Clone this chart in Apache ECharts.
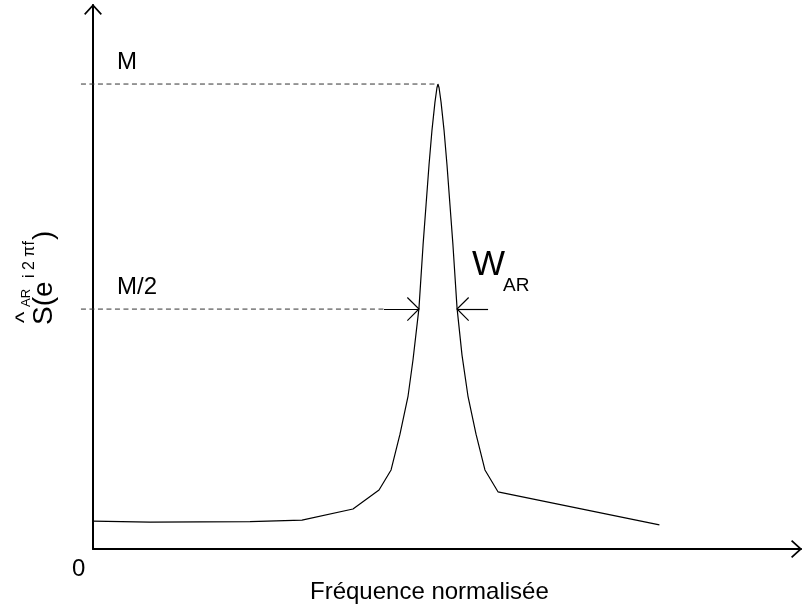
<!DOCTYPE html>
<html><head><meta charset="utf-8">
<script src="https://cdn.jsdelivr.net/npm/echarts@6/dist/echarts.min.js"></script>
<style>html,body{margin:0;padding:0;background:#fff}#c{width:804px;height:610px}</style>
</head><body><div id="c"></div>
<script>
// Normalised frequency (x) and AR spectrum as a fraction of its maximum M (y)
const freq = [0, 0.0403, 0.1109, 0.1476, 0.1836, 0.2020, 0.2105, 0.2168, 0.2225, 0.2260, 0.2302, 0.2331, 0.2352, 0.2373, 0.2394, 0.2415, 0.2429, 0.2436,
              0.2444, 0.2458, 0.2479, 0.2500, 0.2521, 0.2542, 0.2571, 0.2606, 0.2648, 0.2705, 0.2768, 0.2860, 0.40];
const spectrum = [0.060, 0.058, 0.059, 0.062, 0.086, 0.127, 0.170, 0.247, 0.329, 0.407, 0.518, 0.654, 0.740, 0.826, 0.901, 0.961, 0.992, 1.0,
                  0.992, 0.961, 0.901, 0.826, 0.740, 0.654, 0.518, 0.417, 0.329, 0.247, 0.170, 0.123, 0.052];
const peakLevel = 1.0;          // M
const halfLevel = 0.516;        // M/2
const peakFreq = 0.2436;
const guideStart = -0.0085;     // dashed guides start slightly left of the axis
const halfBandEdges = [0.2302, 0.2571];   // where the curve crosses M/2
const arrowTails = [0.2055, 0.2790];      // outer ends of the W_AR arrows
const xRange = [0, 0.5];
const yRange = [0, 1.17];

const FONT = '"Liberation Sans", Arial, sans-serif';
const axisArrow = 'path://M9,9 L18,19 L16.8,20.2 L9,11.6 L1.2,20.2 L0,19 Z M9,0 L9,0.01 Z';
const wArrow = 'path://M12,11.1 L24,23.2 L23.1,24 L12,12.9 L0.9,24 L0,23.2 Z M12,0 L12,0.01 Z';

const chart = echarts.init(document.getElementById('c'), null, {renderer: 'canvas'});
const axisCommon = {
  type: 'value',
  axisLine: {show: true, onZero: true, lineStyle: {color: '#000', width: 2}, symbol: ['none', axisArrow], symbolSize: [18, 20]},
  axisTick: {show: false}, axisLabel: {show: false}, splitLine: {show: false}
};
const hiddenAxis = {type: 'value', axisLine: {show: false}, axisTick: {show: false}, axisLabel: {show: false}, splitLine: {show: false}};
const guideStyle = {type: [5, 3.5], color: '#333', width: 1};
const plotLeft = 93, plotRight = 801, plotTop = 5, plotBottom = 549;
// second (invisible) grid with the same scale, widened to the left so the guides can start before the axis
const guideLeft = plotLeft + guideStart * (plotRight - plotLeft) / (xRange[1] - xRange[0]);
chart.setOption({
  animation: false,
  backgroundColor: '#fff',
  grid: [
    {left: plotLeft, right: 804 - plotRight, top: plotTop, bottom: 610 - plotBottom},
    {left: guideLeft, right: 804 - plotRight, top: plotTop, bottom: 610 - plotBottom}
  ],
  xAxis: [
    Object.assign({}, axisCommon, {gridIndex: 0, min: xRange[0], max: xRange[1]}),
    Object.assign({}, hiddenAxis, {gridIndex: 1, min: guideStart, max: xRange[1]})
  ],
  yAxis: [
    Object.assign({}, axisCommon, {gridIndex: 0, min: yRange[0], max: yRange[1]}),
    Object.assign({}, hiddenAxis, {gridIndex: 1, min: yRange[0], max: yRange[1]})
  ],
  series: [
    {type: 'line', silent: true, xAxisIndex: 1, yAxisIndex: 1, symbol: 'none', lineStyle: guideStyle, z: 1,
     data: [[guideStart, peakLevel], [peakFreq, peakLevel]]},
    {type: 'line', silent: true, xAxisIndex: 1, yAxisIndex: 1, symbol: 'none', lineStyle: guideStyle, z: 1,
     data: [[guideStart, halfLevel], [arrowTails[0], halfLevel]]},
    {type: 'line', silent: true, symbol: 'none', lineStyle: {color: '#000', width: 1.2}, z: 3,
     data: freq.map((f, i) => [f, spectrum[i]]),
     markLine: {
       silent: true, symbol: ['none', wArrow], symbolSize: 24,
       label: {show: false}, lineStyle: {type: 'solid', color: '#000', width: 1.2},
       data: [
         [{coord: [arrowTails[0], halfLevel]}, {coord: [halfBandEdges[0], halfLevel]}],
         [{coord: [arrowTails[1], halfLevel]}, {coord: [halfBandEdges[1], halfLevel]}]
       ]
     }}
  ],
  graphic: [
    {type: 'text', x: 117, y: 62, style: {text: 'M', font: '24px ' + FONT, fill: '#000', verticalAlign: 'middle'}},
    {type: 'text', x: 117, y: 287, style: {text: 'M/2', font: '24px ' + FONT, fill: '#000', verticalAlign: 'middle'}},
    {type: 'text', x: 472, y: 265, style: {text: 'W', font: '35px ' + FONT, fill: '#000', verticalAlign: 'middle'}},
    {type: 'text', x: 503, y: 286, style: {text: 'AR', font: '19px ' + FONT, fill: '#000', verticalAlign: 'middle'}},
    {type: 'text', x: 72, y: 569, style: {text: '0', font: '24px ' + FONT, fill: '#000', verticalAlign: 'middle'}},
    {type: 'text', x: 310, y: 592, style: {text: 'Fréquence normalisée', font: '24px ' + FONT, fill: '#000', verticalAlign: 'middle'}},
    {type: 'group', x: 53, y: 325, rotation: Math.PI / 2, children: [
      {type: 'text', x: 0, y: -9, style: {text: 'S(e', font: '28px ' + FONT, fill: '#000', verticalAlign: 'middle'}},
      {type: 'text', x: 47, y: -23, style: {text: 'i 2 πf', font: '16px ' + FONT, fill: '#000', verticalAlign: 'middle'}},
      {type: 'text', x: 85, y: -9, style: {text: ')', font: '28px ' + FONT, fill: '#000', verticalAlign: 'middle'}},
      {type: 'text', x: 2, y: -27.7, style: {text: '^', font: '24px ' + FONT, fill: '#000', verticalAlign: 'middle'}},
      {type: 'text', x: 18, y: -27, style: {text: 'AR', font: '13px ' + FONT, fill: '#000', verticalAlign: 'middle'}}
    ]}
  ]
});
</script></body></html>
